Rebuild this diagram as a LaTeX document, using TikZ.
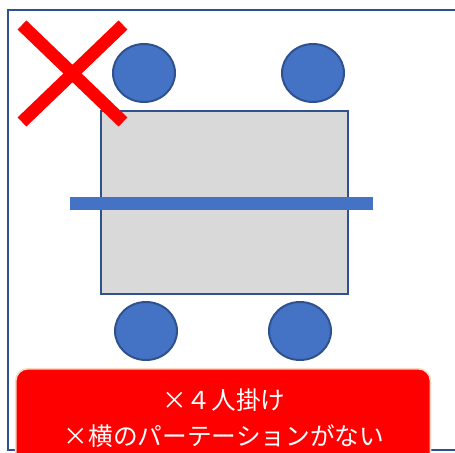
\documentclass[tikz,border=0pt]{standalone}
\usepackage{fontspec}
\newfontfamily\cjk{Noto Sans CJK JP}
\definecolor{frameblue}{HTML}{2F528F}
\definecolor{fillblue}{HTML}{4472C4}
\definecolor{tablegray}{HTML}{D9D9D9}
\definecolor{paleedge}{HTML}{F4D9C6}
\tikzset{
  seat/.style={ellipse, draw=frameblue, line width=1.5pt, fill=fillblue, minimum width=46.5pt, minimum height=43.5pt, inner sep=0pt},
  xstroke/.style={draw=red, line width=9.5pt},
}
\usetikzlibrary{shapes.geometric}
\begin{document}
\begin{tikzpicture}[x=0.75pt,y=-0.75pt]
\useasboundingbox (0,0) rectangle (455,453);
\clip (0,0) rectangle (455,453);
% outer frame
\draw[frameblue, line width=1.8pt] (8,10) rectangle (470,450);
% table
\node[draw=frameblue, line width=1.5pt, fill=tablegray, minimum width=185pt, minimum height=137pt, inner sep=0pt] (table) at (224.5,202.5) {};
% partition
\coordinate (pl) at (70,203.5);
\coordinate (pr) at (373,203.5);
\draw[fillblue, line width=10pt] (pl) -- (pr);
% seats
\node[seat] (s1) at (144,73) {};
\node[seat] (s2) at (313,73) {};
\node[seat] (s3) at (146,331) {};
\node[seat] (s4) at (300,331) {};
% red X
\coordinate (xa) at (22,25);
\coordinate (xb) at (123,122);
\coordinate (xc) at (22,122);
\coordinate (xd) at (123,25);
\draw[xstroke] (xa) -- (xb);
\draw[xstroke] (xc) -- (xd);
% red box
\node[draw=paleedge, line width=1.2pt, fill=red, rounded corners=9pt, minimum width=311pt, minimum height=80pt, inner sep=0pt, anchor=north west] (box) at (15,368) {};
\node[text=white, font=\cjk\fontsize{18.5}{27}\selectfont, align=center] (label) at (224,418) {×４人掛け\\×横のパーテーションがない};
\end{tikzpicture}
\end{document}
